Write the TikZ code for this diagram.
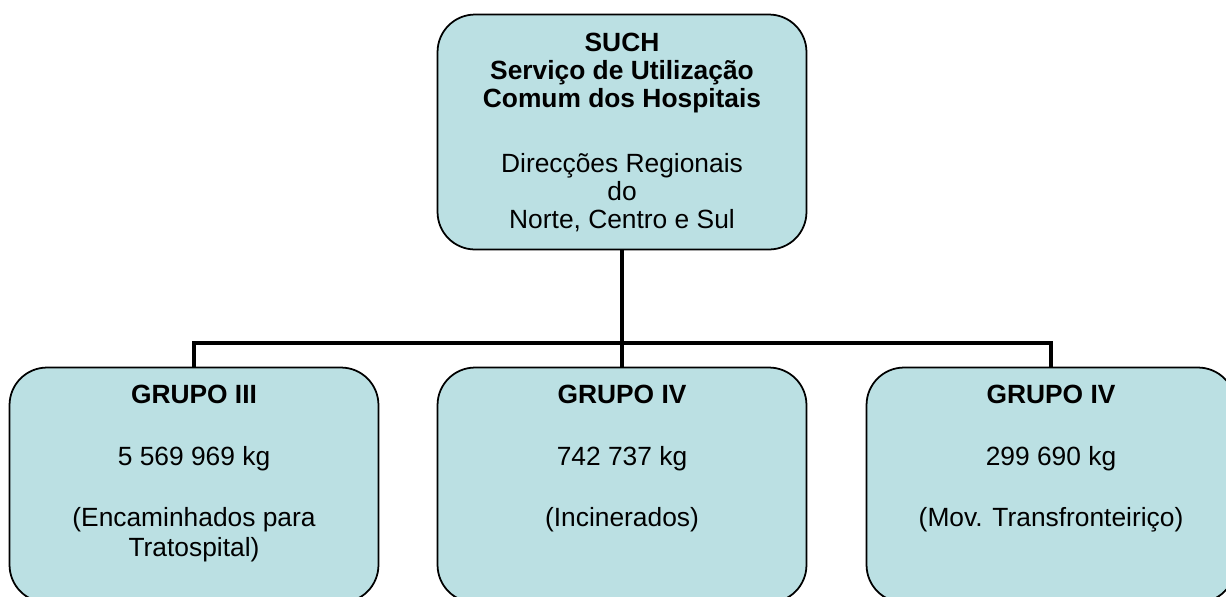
\documentclass[tikz,border=0pt]{standalone}
\usepackage{fontspec}
\setmainfont{Liberation Sans}
\usepackage{xcolor}
\usepackage{tikz}
\usetikzlibrary{positioning}
\definecolor{boxcolor}{RGB}{187,224,227}

\begin{document}
\begin{tikzpicture}[
    x=0.02cm, y=-0.02cm,
    box/.style={draw, line width=1pt, fill=boxcolor, rounded corners=0.75cm, minimum width=7.38cm, minimum height=4.7cm},
    toptxt/.style={align=center, inner sep=0pt, font=\fontsize{15}{16}\selectfont},
    grptxt/.style={align=center, inner sep=0pt, font=\fontsize{15}{17}\selectfont},
    conn/.style={line width=2.8pt}
  ]
  \useasboundingbox (0,0) rectangle (1226,596);
  \clip (0,0) rectangle (1226,596);

  \node[box] (such) at (622,132) {};
  \node[toptxt, below=0.38cm of such.north] (suchtxt) {\textbf{SUCH}\\\textbf{Serviço de Utilização}\\\textbf{Comum dos Hospitais}\\[21pt]Direcções Regionais\\do\\Norte, Centro e Sul};

  \node[box] (grupoiii) at (194,485) {};
  \node[box] (grupoiv) at (622,485) {};
  \node[box] (grupoivm) at (1051,485) {};

  \node[grptxt, below=0.37cm of grupoiii.north] (grupoiiitxt) {\textbf{GRUPO III}\\[18pt]5 569 969 kg\\[18pt](Encaminhados para\\Tratospital)};
  \node[grptxt, below=0.37cm of grupoiv.north] (grupoivtxt) {\textbf{GRUPO IV}\\[18pt]742 737 kg\\[18pt](Incinerados)};
  \node[grptxt, below=0.37cm of grupoivm.north] (grupoivmtxt) {\textbf{GRUPO IV}\\[18pt]299 690 kg\\[18pt](Mov. Transfronteiriço)};

  \coordinate (bar) at (622,343);
  \draw[conn] (such.south) -- (bar);
  \draw[conn] (grupoiii.north) |- (bar) -| (grupoivm.north);
  \draw[conn] (bar) -- (grupoiv.north);
\end{tikzpicture}
\end{document}
